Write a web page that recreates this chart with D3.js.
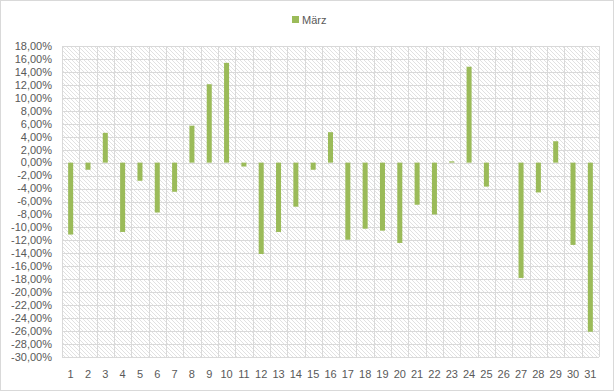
<!DOCTYPE html>
<html><head><meta charset="utf-8">
<script src="https://cdn.jsdelivr.net/npm/d3@7"></script>
<style>
html,body{margin:0;padding:0;background:#fff;}
svg{display:block;}
text{font-family:"Liberation Sans",Arial,sans-serif;fill:#595959;}
</style></head>
<body>
<svg id="chart" width="614" height="391"></svg>
<script>
const days = d3.range(1, 32).map(String);
const seriesName = "März";
const values = [-11.1, -1.1, 4.6, -10.7, -2.8, -7.7, -4.5, 5.7, 12.1, 15.4,
  -0.6, -14.1, -10.7, -6.8, -1.1, 4.7, -11.9, -10.2, -10.5, -12.4,
  -6.5, -8.0, 0.2, 14.8, -3.7, 0, -17.8, -4.6, 3.3, -12.7, -26.1];
const yTicks = d3.range(18, -31, -2);

const svg = d3.select("#chart");
const W = 614, H = 391;
const m = {left: 62, right: 15, top: 46, bottom: 34};

// outer border
svg.append("rect").attr("x", 0.5).attr("y", 0.5).attr("width", W - 1).attr("height", H - 1)
  .attr("fill", "#fff").attr("stroke", "#d9d9d9");

const defs = svg.append("defs");
const pat = defs.append("pattern").attr("id", "hatch").attr("patternUnits", "userSpaceOnUse")
  .attr("width", 4).attr("height", 4);
pat.append("rect").attr("width", 4).attr("height", 4).attr("fill", "#fff");
pat.append("path").attr("d", "M-1,-1 L5,5 M3,-1 L5,1 M-1,3 L1,5")
  .attr("stroke", "#dedede").attr("stroke-width", 0.9);

const x = d3.scaleBand().domain(days).range([m.left, W - m.right]).paddingInner(0).paddingOuter(0);
const y = d3.scaleLinear().domain([-30, 18]).range([H - m.bottom, m.top]);

// plot area background
svg.append("rect").attr("x", x.range()[0]).attr("y", y(18))
  .attr("width", x.range()[1] - x.range()[0]).attr("height", y(-30) - y(18))
  .attr("fill", "url(#hatch)");

// horizontal gridlines
svg.append("g").selectAll("line").data(yTicks).join("line")
  .attr("x1", x.range()[0]).attr("x2", x.range()[1])
  .attr("y1", d => Math.round(y(d)) + 0.5).attr("y2", d => Math.round(y(d)) + 0.5)
  .attr("stroke", "#d9d9d9").attr("stroke-width", 1);

// vertical gridlines at category boundaries
const bounds = days.map(d => x(d)).concat([x.range()[1]]);
svg.append("g").selectAll("line").data(bounds).join("line")
  .attr("x1", d => Math.round(d) + 0.5).attr("x2", d => Math.round(d) + 0.5)
  .attr("y1", y(18)).attr("y2", y(-30))
  .attr("stroke", "#d9d9d9").attr("stroke-width", 1);

// bars
const bw = x.bandwidth() * 0.29;
svg.append("g").selectAll("rect").data(values).join("rect")
  .attr("x", (d, i) => x(days[i]) + (x.bandwidth() - bw) / 2)
  .attr("y", d => y(Math.max(0, d)))
  .attr("width", bw)
  .attr("height", d => Math.abs(y(d) - y(0)))
  .attr("fill", "#9bbb59");

// y axis labels
const fmt = v => d3.format(".2f")(v).replace("−", "-").replace(".", ",") + "%";
svg.append("g").selectAll("text").data(yTicks).join("text")
  .attr("x", 52).attr("y", d => y(d)).attr("dy", "0.35em")
  .attr("text-anchor", "end").attr("font-size", 11)
  .text(d => fmt(d));

// x axis labels
svg.append("g").selectAll("text").data(days).join("text")
  .attr("x", d => x(d) + x.bandwidth() / 2).attr("y", 374).attr("dy", "0.35em")
  .attr("text-anchor", "middle").attr("font-size", 11)
  .text(d => d);

// legend
svg.append("rect").attr("x", 292).attr("y", 16).attr("width", 7).attr("height", 7).attr("fill", "#9bbb59");
svg.append("text").attr("x", 302).attr("y", 20).attr("dy", "0.35em").attr("font-size", 11).text(seriesName);
</script>
</body></html>
